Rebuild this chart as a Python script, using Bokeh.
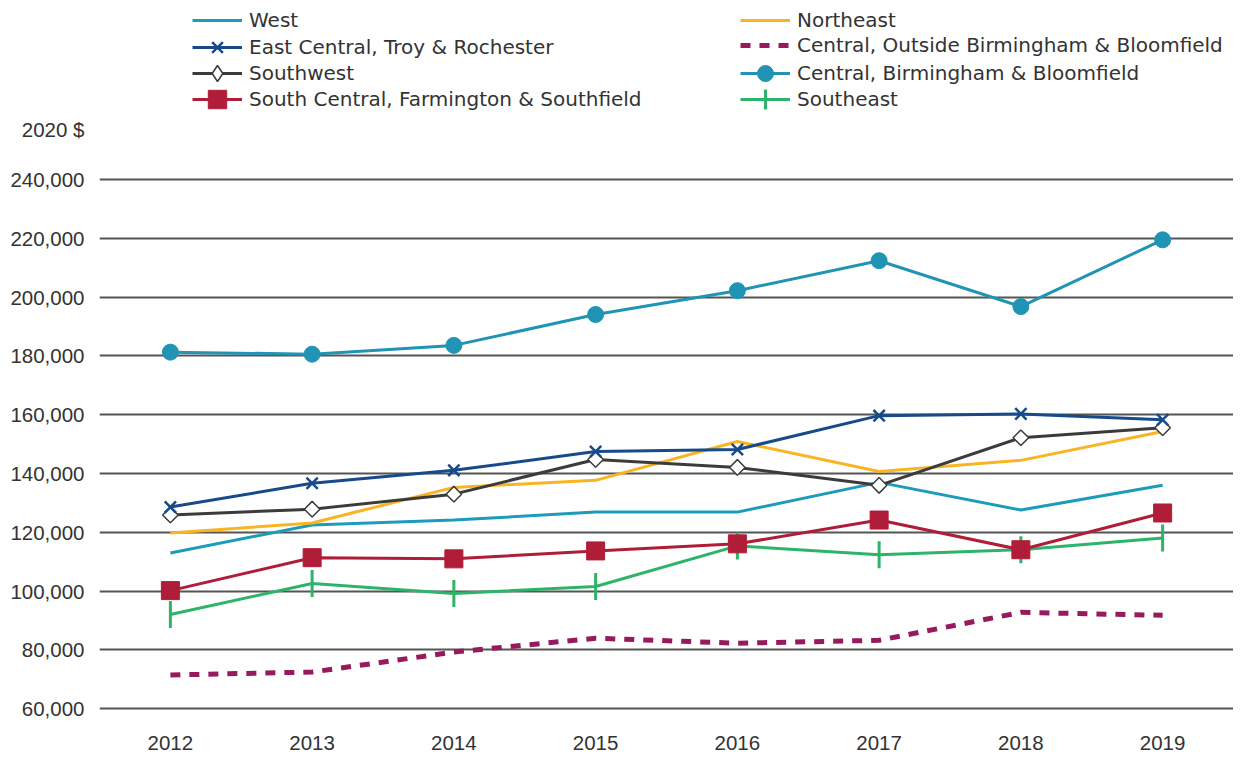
import math
from bokeh.plotting import figure
from bokeh.models import Range1d, Legend, LegendItem, NumeralTickFormatter, FixedTicker
from bokeh.embed import file_html
from bokeh.resources import INLINE

years = [2012, 2013, 2014, 2015, 2016, 2017, 2018, 2019]
west = [113000, 122500, 124200, 126900, 126900, 137000, 127600, 136000]
northeast = [119800, 123200, 135300, 137700, 150900, 140700, 144500, 154300]
east_central = [128600, 136700, 141100, 147500, 148200, 159700, 160300, 158300]
central_outside = [71500, 72500, 79300, 84000, 82300, 83300, 92800, 91800]
southwest = [125900, 127900, 133000, 144800, 142100, 136000, 152200, 155600]
central_bb = [181300, 180600, 183600, 194100, 202200, 212400, 196800, 219500]
south_central = [100200, 111400, 111000, 113700, 116100, 124200, 114100, 126600]
southeast = [92100, 102600, 99200, 101600, 115400, 112400, 114100, 118100]
y_ticks = [60000, 80000, 100000, 120000, 140000, 160000, 180000, 200000, 220000, 240000]
unit_label = "2020 $"
UNIT_POS = 257000

AX_FONT = "Liberation Sans"
LEG_FONT = "DejaVu Sans"
TXT = "#333333"
FRAME_BOTTOM = 728
NAN = [float("nan")]

p = figure(width=1233, height=752, output_backend="svg", toolbar_location=None,
           x_range=Range1d(2011.5, 2019.5), y_range=Range1d(55000, 300900),
           min_border_left=99, min_border_right=0, min_border_top=0,
           min_border_bottom=752 - FRAME_BOTTOM)
p.outline_line_color = None
p.xgrid.grid_line_color = None
p.ygrid.ticker = FixedTicker(ticks=y_ticks)
p.ygrid.grid_line_color = "#555555"
p.ygrid.grid_line_width = 2
p.yaxis.ticker = FixedTicker(ticks=y_ticks + [UNIT_POS])
p.yaxis.major_label_overrides = {UNIT_POS: unit_label}
p.xaxis.ticker = FixedTicker(ticks=years)
p.yaxis.formatter = NumeralTickFormatter(format="0,0")
for ax in (p.xaxis, p.yaxis):
    ax.axis_line_color = None
    ax.major_tick_line_color = None
    ax.minor_tick_line_color = None
    ax.major_label_text_font = AX_FONT
    ax.major_label_text_font_size = "20.5px"
    ax.major_label_text_color = TXT
p.xaxis.major_label_standoff = 6
p.yaxis.major_label_standoff = 9

C_WEST = "#1d9bbb"
C_NE = "#f8b523"
C_EC = "#174a8b"
C_CO = "#951b5c"
C_SW = "#3b3b3b"
C_BB = "#2194b5"
C_SC = "#b01d38"
C_SE = "#2db46a"

r_west = p.line(years, west, line_color=C_WEST, line_width=3)
r_ne = p.line(years, northeast, line_color=C_NE, line_width=3)
r_co = p.line(years, central_outside, line_color=C_CO, line_width=5, line_dash="10 9")
r_se = p.line(years, southeast, line_color=C_SE, line_width=3)
r_se_m = p.scatter(years, southeast, marker="dash", angle=math.pi / 2, size=27,
                   line_color=C_SE, line_width=3)
r_sc = p.line(years, south_central, line_color=C_SC, line_width=3)
r_sc_m = p.scatter(years, south_central, marker="square", size=18,
                   fill_color=C_SC, line_color=C_SC)
r_sw = p.line(years, southwest, line_color=C_SW, line_width=3)
r_sw_m = p.scatter(years, southwest, marker="square", angle=math.pi / 4, size=11,
                   fill_color="white", line_color=C_SW, line_width=1.5)
r_ec = p.line(years, east_central, line_color=C_EC, line_width=3)
r_ec_m = p.scatter(years, east_central, marker="x", size=16,
                   line_color=C_EC, line_width=2.5)
r_bb = p.line(years, central_bb, line_color=C_BB, line_width=3)
r_bb_m = p.scatter(years, central_bb, marker="circle", size=16,
                   fill_color=C_BB, line_color=C_BB)

# legend-only marker shapes (legends do not rotate markers)
r_sw_leg = p.scatter(NAN, NAN, marker="diamond", fill_color="white",
                     line_color=C_SW, line_width=1.5)
r_se_leg = p.scatter(NAN, NAN, marker="cross", line_color=C_SE, line_width=3)


def add_legend_item(label, renderers, x, row_center, h):
    lg = Legend(items=[LegendItem(label=label, renderers=renderers)],
                location=(x, FRAME_BOTTOM - row_center - h / 2),
                orientation="vertical", padding=0, margin=0, spacing=0,
                glyph_width=50, glyph_height=h, label_height=h, label_standoff=7,
                label_text_font=LEG_FONT, label_text_font_size="20px",
                label_text_color=TXT, background_fill_alpha=0,
                border_line_color=None)
    p.add_layout(lg, "center")


add_legend_item("West", [r_west], 93, 27, 20)
add_legend_item("East Central, Troy & Rochester", [r_ec, r_ec_m], 93, 52, 38)
add_legend_item("Southwest", [r_sw, r_sw_leg], 93, 78, 40)
add_legend_item("South Central, Farmington & Southfield", [r_sc, r_sc_m], 93, 104, 46)
add_legend_item("Northeast", [r_ne], 641, 27, 20)
add_legend_item("Central, Outside Birmingham & Bloomfield", [r_co], 641, 52, 20)
add_legend_item("Central, Birmingham & Bloomfield", [r_bb, r_bb_m], 641, 78, 40)
add_legend_item("Southeast", [r_se, r_se_leg], 641, 104, 50)

open("out.html", "w").write(file_html(p, INLINE))
